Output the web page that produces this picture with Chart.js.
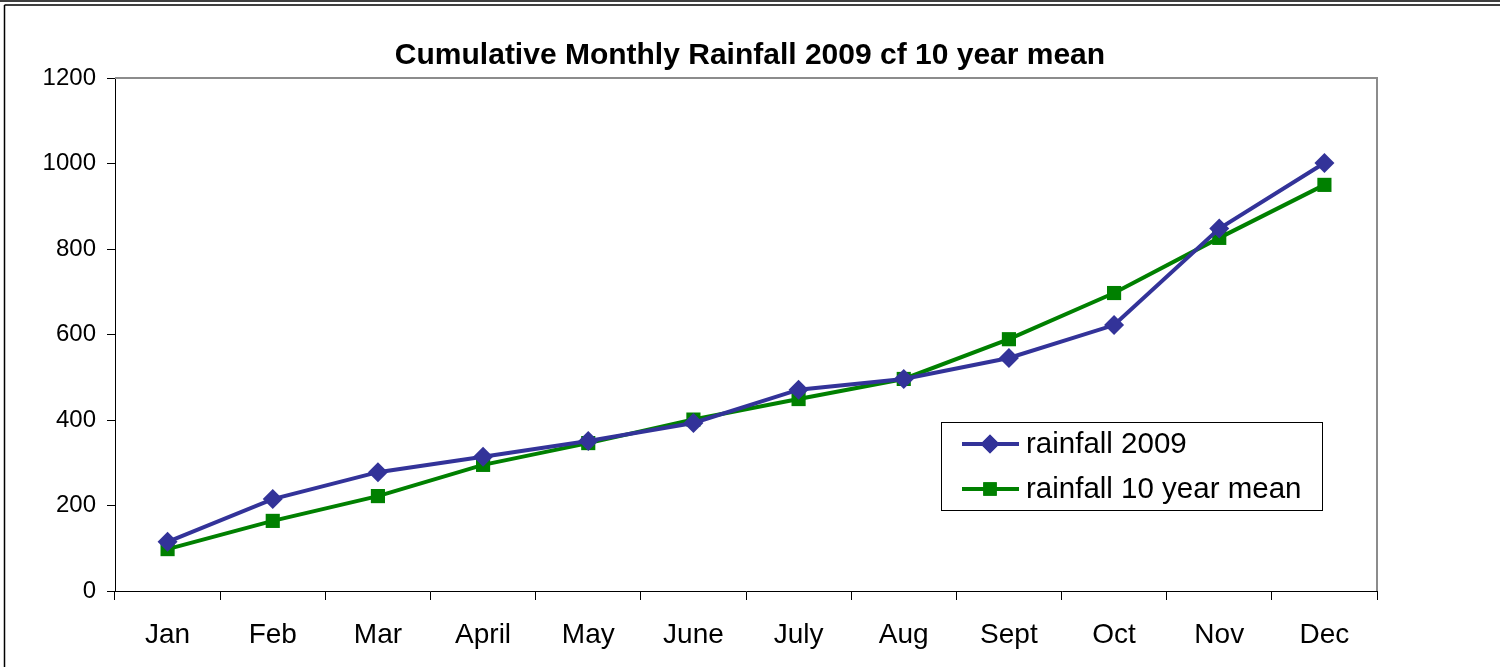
<!DOCTYPE html>
<html>
<head>
<meta charset="utf-8">
<title>Cumulative Monthly Rainfall 2009 cf 10 year mean</title>
<script src="https://cdn.jsdelivr.net/npm/chart.js@4.4.1/dist/chart.umd.min.js"></script>
<style>
  html, body { margin: 0; padding: 0; background: #fff; }
  #wrap { width: 1500px; height: 667px; position: relative; }
</style>
</head>
<body>
<div id="wrap"><canvas id="grafico" width="1500" height="667"></canvas></div>
<script>
// datos
const months = ["Jan", "Feb", "Mar", "April", "May", "June", "July", "Aug", "Sept", "Oct", "Nov", "Dec"];
const rain2009 = [115, 215, 278, 314, 351, 393, 471, 496, 545, 622, 848, 1001];
const rainMean = [98, 164, 222, 295, 346, 401, 449, 496, 589, 697, 826, 950];
const yTicks = [0, 200, 400, 600, 800, 1000, 1200];

const FONT = "'Liberation Sans', Arial, sans-serif";

// marco exterior y borde gris del area de trazado
const framePlugin = {
    id: 'frame',
    beforeDraw(chart) {
        const ctx = chart.ctx;
        ctx.save();
        ctx.fillStyle = '#fff';
        ctx.fillRect(0, 0, chart.width, chart.height);
        ctx.strokeStyle = '#000';
        ctx.lineWidth = 1.5;
        ctx.beginPath();
        ctx.moveTo(0, 1);
        ctx.lineTo(chart.width, 1);
        ctx.moveTo(4.5, 5);
        ctx.lineTo(chart.width, 5);
        ctx.moveTo(4.5, 5);
        ctx.lineTo(4.5, chart.height);
        ctx.stroke();
        ctx.restore();
    },
    beforeDatasetsDraw(chart) {
        const a = chart.chartArea;
        const ctx = chart.ctx;
        ctx.save();
        ctx.strokeStyle = '#8c8c8c';
        ctx.lineWidth = 2;
        ctx.beginPath();
        ctx.moveTo(a.left, a.top);
        ctx.lineTo(a.right, a.top);
        ctx.lineTo(a.right, a.bottom);
        ctx.stroke();
        ctx.restore();
    }
};

// leyenda dentro del grafico
const boxLegend = {
    id: 'boxLegend',
    afterDraw(chart) {
        const ctx = chart.ctx;
        const x0 = 941, y0 = 422, w = 381, h = 88;
        ctx.save();
        ctx.fillStyle = '#fff';
        ctx.fillRect(x0, y0, w, h);
        ctx.strokeStyle = '#000';
        ctx.lineWidth = 1;
        ctx.strokeRect(x0 + 0.5, y0 + 0.5, w, h);
        chart.data.datasets.forEach((ds, i) => {
            const y = 444 + i * 45;
            ctx.strokeStyle = ds.borderColor;
            ctx.lineWidth = ds.borderWidth;
            ctx.beginPath();
            ctx.moveTo(962, y);
            ctx.lineTo(1019, y);
            ctx.stroke();
            ctx.fillStyle = ds.backgroundColor;
            Chart.helpers.drawPoint(ctx, {
                pointStyle: ds.pointStyle,
                rotation: 0,
                borderWidth: 0,
                radius: ds.pointRadius - 0.5
            }, 990, y);
            ctx.fill();
            ctx.fillStyle = '#000';
            ctx.font = '29.5px ' + FONT;
            ctx.textBaseline = 'middle';
            ctx.textAlign = 'left';
            ctx.fillText(ds.label, 1026, y + 1);
        });
        ctx.restore();
    }
};

const ctx = document.getElementById("grafico");

const chart = new Chart(ctx, {
    type: "line",
    data: {
        labels: months,
        datasets: [{
            label: "rainfall 2009",
            data: rain2009,
            borderColor: "#333399",
            backgroundColor: "#333399",
            borderWidth: 4,
            pointStyle: "rectRot",
            pointRadius: 10,
            pointBorderWidth: 0,
            tension: 0
        }, {
            label: "rainfall 10 year mean",
            data: rainMean,
            borderColor: "#008000",
            backgroundColor: "#008000",
            borderWidth: 4,
            pointStyle: "rect",
            pointRadius: 10,
            pointBorderWidth: 0,
            tension: 0
        }]
    },
    options: {
        responsive: false,
        animation: false,
        layout: {
            padding: { left: 0, right: 0, top: 0, bottom: 0 }
        },
        plugins: {
            legend: { display: false },
            tooltip: { enabled: false },
            title: {
                display: true,
                text: "Cumulative Monthly Rainfall 2009 cf 10 year mean",
                color: "#000",
                font: { family: FONT, size: 30, weight: "bold" },
                padding: { top: 38, bottom: 4 }
            }
        },
        scales: {
            x: {
                offset: true,
                grid: {
                    offset: true,
                    drawOnChartArea: false,
                    drawTicks: true,
                    tickLength: 9,
                    color: "#000",
                    lineWidth: 1
                },
                border: { display: true, color: "#000", width: 1 },
                ticks: {
                    color: "#000",
                    font: { family: FONT, size: 28 },
                    padding: 18,
                    maxRotation: 0,
                    autoSkip: false
                },
                afterFit(scale) { scale.height = 76; }
            },
            y: {
                min: 0,
                max: 1200,
                grid: {
                    drawOnChartArea: false,
                    drawTicks: true,
                    tickLength: 8,
                    color: "#000",
                    lineWidth: 1
                },
                border: { display: true, color: "#000", width: 1 },
                afterBuildTicks(scale) {
                    scale.ticks = yTicks.map(v => ({ value: v }));
                },
                ticks: {
                    color: "#000",
                    font: { family: FONT, size: 24 },
                    padding: 11,
                    callback: v => String(v)
                },
                afterFit(scale) { scale.width = 115; }
            },
            // eje vacio a la derecha para dejar el margen
            y2: {
                position: "right",
                min: 0,
                max: 1200,
                grid: { display: false },
                border: { display: false },
                ticks: { display: false },
                afterFit(scale) { scale.width = 123; }
            }
        }
    },
    plugins: [framePlugin, boxLegend]
});
</script>
</body>
</html>
